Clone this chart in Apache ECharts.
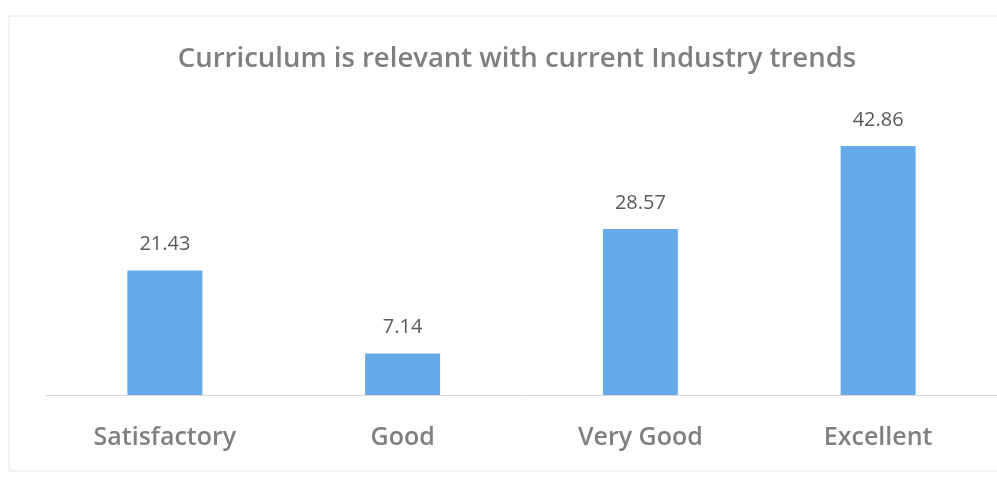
<!DOCTYPE html>
<html><head><meta charset="utf-8">
<script src="https://cdn.jsdelivr.net/npm/echarts@6/dist/echarts.min.js"></script>
<style>html,body{margin:0;padding:0;background:#fff}#c{width:997px;height:478px}</style>
</head><body><div id="c"></div>
<script>
const categories = ["Satisfactory", "Good", "Very Good", "Excellent"];
const values = [21.43, 7.14, 28.57, 42.86];
const titleText = "Curriculum is relevant with current Industry trends";

const chart = echarts.init(document.getElementById('c'), null, {renderer: 'canvas'});
chart.setOption({
  backgroundColor: '#ffffff',
  animation: false,
  title: {
    text: titleText, left: 512, top: 40, textAlign: 'center',
    textStyle: {fontFamily: 'Open Sans', fontSize: 27.5, fontWeight: 600, color: '#7f7f7f'}
  },
  graphic: [{type: 'rect', shape: {x: 9, y: 16, width: 1000, height: 455}, style: {fill: 'none', stroke: '#e6e6e6', lineWidth: 1}, silent: true}],
  grid: {left: 46, right: 0, top: 104.5, bottom: 83},
  xAxis: {
    type: 'category', data: categories,
    axisLine: {lineStyle: {color: '#d9d9d9', width: 1}},
    axisTick: {show: false},
    axisLabel: {margin: 30, fontFamily: 'Open Sans', fontSize: 25, fontWeight: 600, color: '#808080'}
  },
  yAxis: {type: 'value', min: 0, max: 50, show: false, splitLine: {show: false}},
  series: [{
    type: 'bar', data: values, barWidth: 75,
    itemStyle: {color: '#66abe8'},
    label: {show: true, position: 'top', distance: 16, fontFamily: 'Open Sans', fontSize: 20, color: '#5a5a5a',
      formatter: p => p.value.toFixed(2)}
  }]
});
</script></body></html>
